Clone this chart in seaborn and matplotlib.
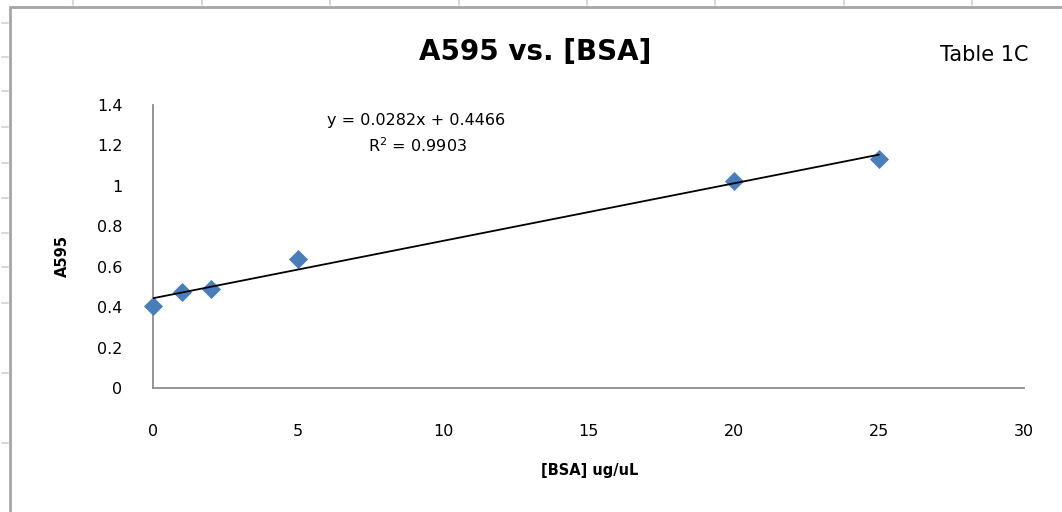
import numpy as np
import pandas as pd
import matplotlib
matplotlib.use("Agg")
import matplotlib.pyplot as plt
from matplotlib.lines import Line2D
import seaborn as sns

# Data
bsa = [0, 1, 2, 5, 20, 25]
a595 = [0.406, 0.475, 0.49, 0.64, 1.025, 1.134]
x_ticks = [0, 5, 10, 15, 20, 25, 30]
y_ticks = [0, 0.2, 0.4, 0.6, 0.8, 1.0, 1.2, 1.4]
y_tick_labels = ["0", "0.2", "0.4", "0.6", "0.8", "1", "1.2", "1.4"]
title = "A595 vs. [BSA]"
equation = "y = 0.0282x + 0.4466"
r2_text = "R$^2$ = 0.9903"

df = pd.DataFrame({"BSA": bsa, "A595": a595})

sns.set_style("white")
plt.rcParams["font.family"] = ["DejaVu Sans"]
plt.rcParams["text.color"] = "black"

W, H = 1062, 512
fig = plt.figure(figsize=(W / 100, H / 100), dpi=100)
fig.patch.set_facecolor("white")

# axes placement (pixel-based)
left, right, top, bottom = 153, 1024, 105, 388
ax = fig.add_axes([left / W, 1 - bottom / H, (right - left) / W, (bottom - top) / H])

sns.regplot(data=df, x="BSA", y="A595", ax=ax, ci=None, truncate=True,
            marker="D",
            scatter_kws=dict(s=85, color="#4a7ebb", edgecolor="#4a7ebb", linewidths=0.5,
                             alpha=1.0, clip_on=False, zorder=3),
            line_kws=dict(color="black", lw=1.3, zorder=4))

ax.set_xlim(0, 30)
ax.set_ylim(0, 1.4)
ax.set_xticks(x_ticks)
ax.set_xticklabels([str(t) for t in x_ticks])
ax.set_yticks(y_ticks)
ax.set_yticklabels(y_tick_labels)
ax.tick_params(axis="both", length=0, labelsize=11.5, colors="black")
ax.tick_params(axis="y", pad=22)
ax.tick_params(axis="x", pad=26)

for s in ["top", "right"]:
    ax.spines[s].set_visible(False)
for s in ["left", "bottom"]:
    ax.spines[s].set_color("#8c8c8c")
    ax.spines[s].set_linewidth(1.3)

ax.set_xlabel("")
ax.set_ylabel("")

# Titles and labels
fig.text(535 / W, 1 - 52 / H, title, ha="center", va="center", fontsize=20, fontweight="bold", color="black")
fig.text(984 / W, 1 - 55 / H, "Table 1C", ha="center", va="center", fontsize=15, color="black")
fig.text(590 / W, 1 - 471 / H, "[BSA] ug/uL", ha="center", va="center", fontsize=10.5, fontweight="bold", color="black")
fig.text(62 / W, 1 - 256 / H, "A595", ha="center", va="center", fontsize=10.5, fontweight="bold", rotation=90, color="black")
fig.text(416 / W, 1 - 120 / H, equation, ha="center", va="center", fontsize=11.5, color="black")
fig.text(417 / W, 1 - 146 / H, r2_text, ha="center", va="center", fontsize=11.5, color="black")

# spreadsheet frame
frame_color = "#a6a6a6"
fig.add_artist(Line2D([10 / W, 10 / W], [0, 1 - 7 / H], color=frame_color, lw=2.0))
fig.add_artist(Line2D([10 / W, 1], [1 - 7 / H, 1 - 7 / H], color=frame_color, lw=2.0))
grid_c = "#c7cfe0"
for xp in [73, 202, 330, 459, 587, 715, 844, 972]:
    fig.add_artist(Line2D([xp / W, xp / W], [1 - 5 / H, 1], color=grid_c, lw=1.2))
for yp in [23, 57, 91, 127, 163, 198, 233, 267, 303, 373, 443]:
    fig.add_artist(Line2D([2 / W, 8 / W], [1 - yp / H, 1 - yp / H], color=grid_c, lw=1.2))

fig.savefig("out.png", dpi=100)
